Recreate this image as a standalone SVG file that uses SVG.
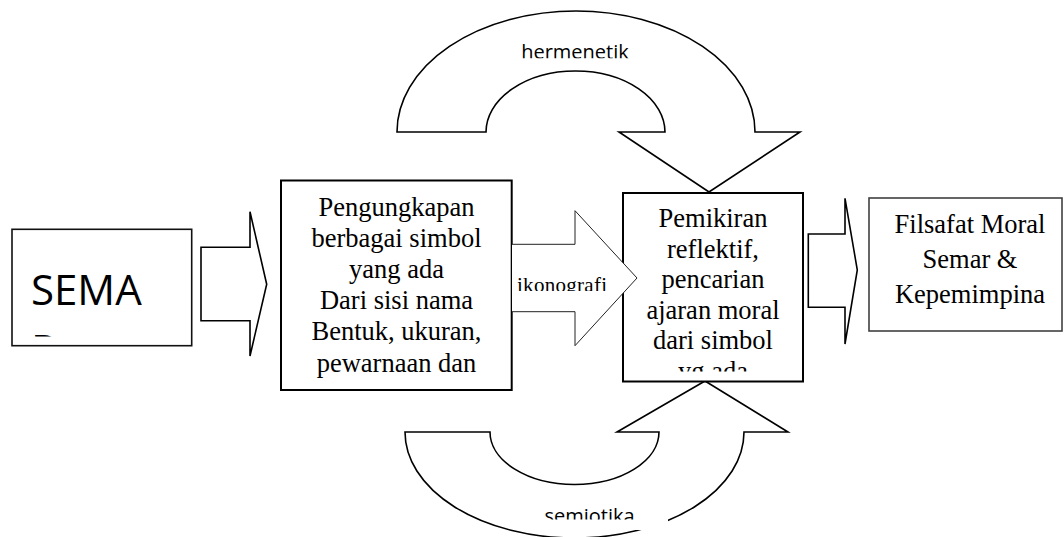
<svg xmlns="http://www.w3.org/2000/svg" width="1064" height="537" viewBox="0 0 1064 537">
<style>
.serif{font-family:"Liberation Serif","Times New Roman",serif;font-size:26.5px;fill:#000;text-anchor:middle}
.sans{font-family:"Open Sans","Liberation Sans",sans-serif;fill:#000}
.arrow{fill:#fff;stroke:#000;stroke-width:1.6;stroke-linejoin:miter}
.thin{fill:#fff;stroke:#222;stroke-width:1}
.box{fill:#fff;stroke:#000;stroke-width:2}
</style>
<defs>
<clipPath id="clipHerm"><rect x="480" y="30" width="200" height="28.3"/></clipPath>
<clipPath id="clipSemi"><rect x="515" y="495" width="153" height="24.5"/></clipPath>
<clipPath id="clipIko"><rect x="513" y="265" width="110" height="26"/></clipPath>
<clipPath id="clipSema"><rect x="13" y="230" width="178" height="106.5"/></clipPath>
<clipPath id="clipPem"><rect x="624" y="194" width="178" height="177.5"/></clipPath>
</defs>

<g id="connectors">
  <g id="arrow-hermenetik">
    <path class="arrow" d="M397,132 A179,121 0 0 1 755,132 L800,132 L709,192 L619,132 L665,132 A89.5,61 0 0 0 486,132 Z"/>
    <text class="sans" x="575" y="58.5" font-size="20" text-anchor="middle" clip-path="url(#clipHerm)">hermenetik</text>
  </g>
  <g id="arrow-semiotika">
    <path class="arrow" d="M405,432 A169.5,106 0 0 0 744,432 L788,432 L705,381 L617,432 L659,432 A84.5,52.5 0 0 1 490,432 Z"/>
    <rect x="515" y="495" width="153" height="35" fill="#fff"/>
    <text class="sans" x="589.5" y="523" font-size="20" text-anchor="middle" clip-path="url(#clipSemi)">semiotika</text>
  </g>
  <g id="arrow-1">
    <path class="arrow" d="M201,247.3 L250,247.3 L250,211.7 L266.7,284.3 L250,356 L250,320.7 L201,320.7 Z"/>
  </g>
  <g id="arrow-3">
    <path class="arrow" stroke-width="2" d="M808.3,234 L845,234 L845,198.3 L857.3,270 L845,344 L845,307.3 L808.3,307.3 Z"/>
  </g>
</g>

<g id="node-sema">
  <rect x="12" y="229.3" width="179.7" height="116.4" fill="#fff" stroke="#111" stroke-width="1.6"/>
  <g clip-path="url(#clipSema)">
    <text class="sans" x="31" y="305" font-size="42">SEMA</text>
    <text class="sans" x="31" y="365" font-size="42">R</text>
  </g>
</g>

<g id="node-pengungkapan">
  <rect class="box" x="281" y="180.5" width="230.7" height="209.5"/>
  <text class="serif" x="396.5" y="215.5">Pengungkapan</text>
  <text class="serif" x="396.5" y="246.5">berbagai simbol</text>
  <text class="serif" x="396.5" y="277.5">yang ada</text>
  <text class="serif" x="396.5" y="308.5">Dari sisi nama</text>
  <text class="serif" x="396.5" y="340">Bentuk, ukuran,</text>
  <text class="serif" x="396.5" y="372">pewarnaan dan</text>
</g>

<g id="node-pemikiran">
  <rect class="box" x="623" y="193" width="180" height="188.5"/>
  <g clip-path="url(#clipPem)">
    <text class="serif" x="713" y="227.3">Pemikiran</text>
    <text class="serif" x="713" y="258">reflektif,</text>
    <text class="serif" x="713" y="288.3">pencarian</text>
    <text class="serif" x="713" y="318.5">ajaran moral</text>
    <text class="serif" x="713" y="349">dari simbol</text>
    <text class="serif" x="713" y="379.5">yg ada</text>
  </g>
</g>

<g id="arrow-ikonografi">
  <path class="thin" d="M512,244.3 L575,244.3 L575,210.7 L637,278 L575,345.7 L575,311.7 L512,311.7"/>
  <text x="517" y="292" font-family="Liberation Serif, Times New Roman, serif" font-size="21" textLength="90" clip-path="url(#clipIko)">ikonografi</text>
</g>

<g id="node-filsafat">
  <rect x="869" y="198" width="193" height="133" fill="#fff" stroke="#404040" stroke-width="1.6"/>
  <text class="serif" x="970" y="232.7">Filsafat Moral</text>
  <text class="serif" x="970" y="267.7">Semar &amp;</text>
  <text class="serif" x="970" y="302.7">Kepemimpina</text>
</g>
</svg>
